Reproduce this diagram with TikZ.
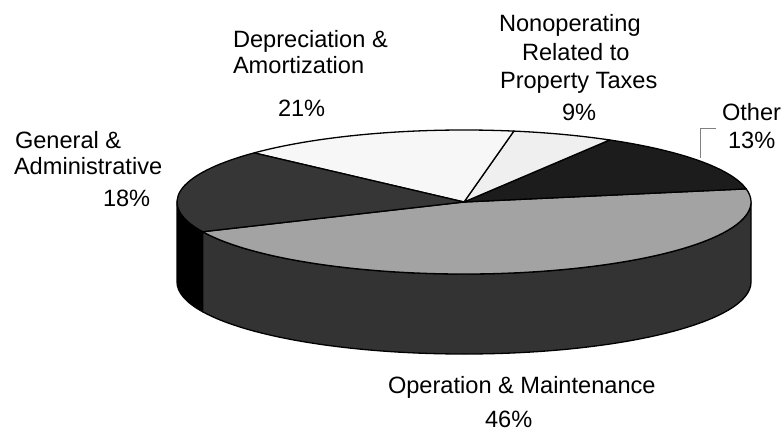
\documentclass[tikz,border=0pt]{standalone}
\usepackage{fontspec}
\setmainfont{Liberation Sans}
\usetikzlibrary{calc}
\definecolor{omtop}{HTML}{A3A3A3}
\definecolor{omside}{HTML}{333333}
\definecolor{gatop}{HTML}{363636}
\definecolor{deptop}{HTML}{F7F7F7}
\definecolor{nontop}{HTML}{EFEFEF}
\definecolor{othtop}{HTML}{1C1C1C}
\definecolor{leader}{HTML}{808080}
\begin{document}
\begin{tikzpicture}[x=1pt,y=1pt,
  pieedge/.style={draw=black,line width=1.3pt,line join=round},
  ell/.style={x radius=287,y radius=72},
  lbl/.style={anchor=base west,inner sep=0pt,outer sep=0pt,font=\fontsize{23.6}{27}\selectfont}]
\useasboundingbox (0,0) rectangle (783,432);
\coordinate (C) at (464,230);
% sides
\path[pieedge,fill=black] ($(C)+(180:287 and 72)$) arc[ell,start angle=180,end angle=204.4] -- ++(0,-80) arc[ell,start angle=204.4,end angle=180] -- cycle;
\path[pieedge,fill=omside] ($(C)+(204.4:287 and 72)$) arc[ell,start angle=204.4,end angle=360] -- ++(0,-80) arc[ell,start angle=360,end angle=204.4] -- cycle;
% top slices
\path[pieedge,fill=omtop] (C) -- ($(C)+(-155.6:287 and 72)$) arc[ell,start angle=-155.6,end angle=10.5] -- cycle;
\path[pieedge,fill=othtop] (C) -- ($(C)+(10.5:287 and 72)$) arc[ell,start angle=10.5,end angle=59.5] -- cycle;
\path[pieedge,fill=nontop] (C) -- ($(C)+(59.5:287 and 72)$) arc[ell,start angle=59.5,end angle=80] -- cycle;
\path[pieedge,fill=deptop] (C) -- ($(C)+(80:287 and 72)$) arc[ell,start angle=80,end angle=137] -- cycle;
\path[pieedge,fill=gatop] (C) -- ($(C)+(137:287 and 72)$) arc[ell,start angle=137,end angle=204.4] -- cycle;
% labels
\node[lbl] (ga1) at (15,284) {General \&};
\node[lbl] (ga2) at (14,258) {Administrative};
\node[lbl] (ga3) at (103,226) {18\%};
\node[lbl] (da1) at (233,384) {Depreciation \&};
\node[lbl] (da2) at (233,358) {Amortization};
\node[lbl] (da3) at (278,316) {21\%};
\node[lbl] (np1) at (499,400) {Nonoperating};
\node[lbl] (np2) at (522,371) {Related to};
\node[lbl] (np3) at (500,344) {Property Taxes};
\node[lbl] (np4) at (562,312) {9\%};
\node[lbl] (ot1) at (722,312) {Other};
\node[lbl] (ot2) at (728,284) {13\%};
\node[lbl] (om1) at (388,39) {Operation \& Maintenance};
\node[lbl] (om2) at (485,5) {46\%};
% leader for Other
\coordinate (l1) at (716,304);
\coordinate (l2) at (700,304);
\coordinate (l3) at (700,274);
\draw[leader,line width=0.8pt] (l1) -- (l2) -- (l3);
\end{tikzpicture}
\end{document}
